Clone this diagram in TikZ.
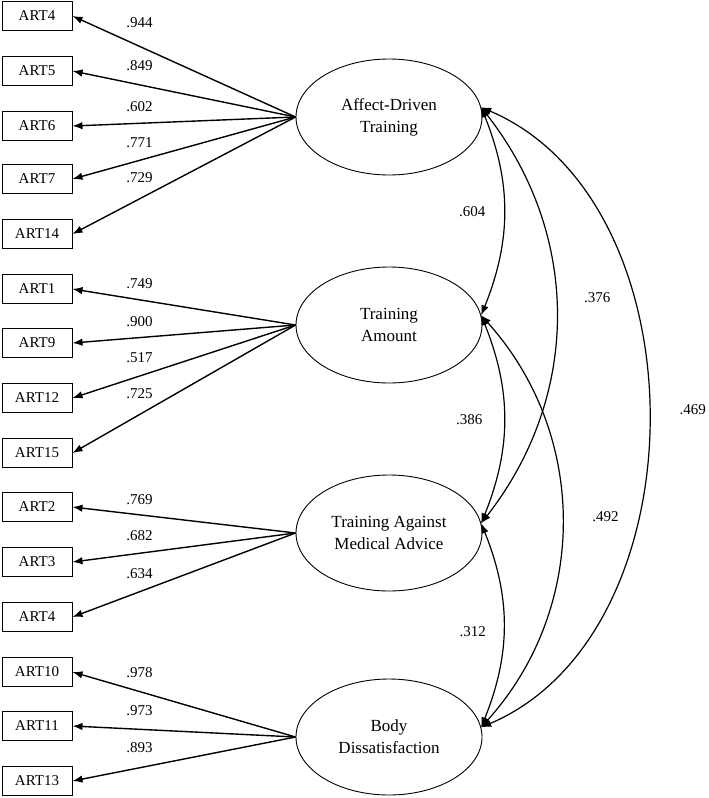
\documentclass[tikz,border=0pt]{standalone}
\usepackage{fontspec}
\setmainfont{Liberation Serif}
\usetikzlibrary{shapes,arrows.meta}

\begin{document}
\begin{tikzpicture}[x=1pt,y=-1pt,
  item/.style={draw,line width=1pt,minimum width=70pt,minimum height=29pt,inner sep=0pt,font=\fontsize{15}{18}\selectfont},
  factor/.style={draw,ellipse,line width=0.9pt,minimum width=186pt,minimum height=116pt,inner sep=0pt,align=center,font=\fontsize{17}{22}\selectfont},
  load/.style={-{Latex[length=10pt,width=7.5pt]},line width=1.4pt},
  cov/.style={{Latex[length=10pt,width=7.5pt]}-{Latex[length=10pt,width=7.5pt]},line width=1.2pt},
  coef/.style={font=\fontsize{15}{18}\selectfont,inner sep=1pt}]
  \useasboundingbox (0,0) rectangle (709,798);

  \node[factor] (adt) at (389,117) {Affect-Driven\\Training};
  \node[factor] (ta) at (389,325) {Training\\Amount};
  \node[factor] (tama) at (389,533) {Training Against\\Medical Advice};
  \node[factor] (bd) at (389,737) {Body\\Dissatisfaction};

  \node[item] (art4a) at (37,16) {ART4};
  \node[item] (art5) at (37,71) {ART5};
  \node[item] (art6) at (37,126) {ART6};
  \node[item] (art7) at (37,179) {ART7};
  \node[item] (art14) at (37,234) {ART14};

  \node[item] (art1) at (37,289) {ART1};
  \node[item] (art9) at (37,343) {ART9};
  \node[item] (art12) at (37,398) {ART12};
  \node[item] (art15) at (37,453) {ART15};

  \node[item] (art2) at (37,507) {ART2};
  \node[item] (art3) at (37,562) {ART3};
  \node[item] (art4b) at (37,617) {ART4};

  \node[item] (art10) at (37,672) {ART10};
  \node[item] (art11) at (37,726) {ART11};
  \node[item] (art13) at (37,781) {ART13};

  \draw[load] (adt.west) -- node[coef,pos=0.7,above=17pt] {.944} (art4a.east);
  \draw[load] (adt.west) -- node[coef,pos=0.7,above=12pt] {.849} (art5.east);
  \draw[load] (adt.west) -- node[coef,pos=0.7,above=10pt] {.602} (art6.east);
  \draw[load] (adt.west) -- node[coef,pos=0.7,above=11pt] {.771} (art7.east);
  \draw[load] (adt.west) -- node[coef,pos=0.7,above=14pt] {.729} (art14.east);

  \draw[load] (ta.west) -- node[coef,pos=0.7,above=9pt] {.749} (art1.east);
  \draw[load] (ta.west) -- node[coef,pos=0.7,above=9pt] {.900} (art9.east);
  \draw[load] (ta.west) -- node[coef,pos=0.7,above=12pt] {.517} (art12.east);
  \draw[load] (ta.west) -- node[coef,pos=0.7,above=14pt] {.725} (art15.east);

  \draw[load] (tama.west) -- node[coef,pos=0.7,above=8pt] {.769} (art2.east);
  \draw[load] (tama.west) -- node[coef,pos=0.7,above=11pt] {.682} (art3.east);
  \draw[load] (tama.west) -- node[coef,pos=0.7,above=11pt] {.634} (art4b.east);

  \draw[load] (bd.west) -- node[coef,pos=0.7,above=12pt] {.978} (art10.east);
  \draw[load] (bd.west) -- node[coef,pos=0.7,above=12pt] {.973} (art11.east);
  \draw[load] (bd.west) -- node[coef,pos=0.7,above=13pt] {.893} (art13.east);

  \draw[cov] (adt.6) to[bend left=22] node[coef,midway,left=17pt] {.604} (ta.6);
  \draw[cov] (adt.6) to[bend left=38] node[coef,pos=0.46,right=27pt] {.376} (tama.6);
  \draw[cov] (adt.6) to[bend left=67] node[coef,pos=0.49,right=30pt] {.469} (bd.6);
  \draw[cov] (ta.6) to[bend left=22] node[coef,midway,left=20pt] {.386} (tama.6);
  \draw[cov] (ta.6) to[bend left=42] node[coef,pos=0.49,right=29pt] {.492} (bd.6);
  \draw[cov] (tama.6) to[bend left=22] node[coef,pos=0.53,left=16pt] {.312} (bd.6);
\end{tikzpicture}
\end{document}
